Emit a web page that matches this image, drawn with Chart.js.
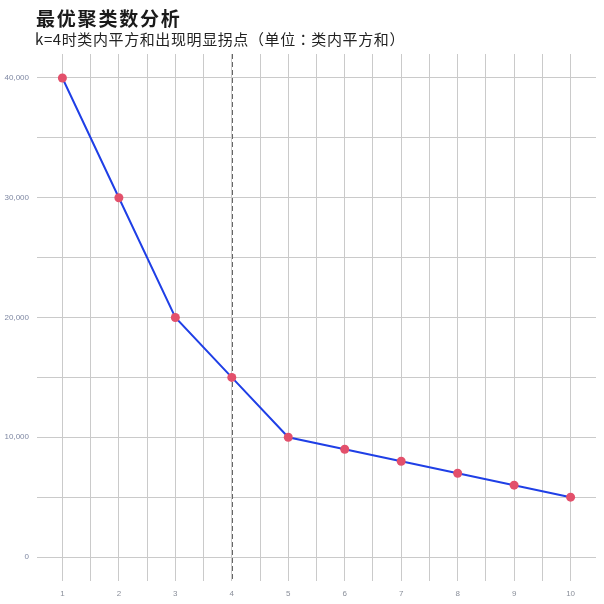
<!DOCTYPE html>
<html><head><meta charset="utf-8">
<script src="https://cdn.jsdelivr.net/npm/chart.js@4/dist/chart.umd.min.js"></script>
<style>
html,body{margin:0;padding:0;background:#fff;}
#wrap{position:relative;width:604px;height:604px;}
#title{position:absolute;left:36px;top:4px;font:bold 19px "Noto Sans CJK SC",sans-serif;color:#1a1a1a;letter-spacing:1.8px;white-space:nowrap;}
#sub{position:absolute;left:35px;top:28px;font:15px "Noto Sans CJK SC",sans-serif;color:#222;white-space:nowrap;letter-spacing:0.6px;}
#sub .p{font-family:"Noto Sans CJK TC",sans-serif;}
canvas{position:absolute;left:0;top:0;}
</style></head>
<body>
<div id="wrap">
<canvas id="c" width="604" height="604"></canvas>
<div id="title">最优聚类数分析</div>
<div id="sub">k=4时类内平方和出现明显拐点<span class="p">（</span>单位<span class="p">：</span>类内平方和<span class="p">）</span></div>
</div>
<script>
const kValues = [1,2,3,4,5,6,7,8,9,10];
const wss = [40000,30000,20000,15000,10000,9000,8000,7000,6000,5000];
const yTicks = [0,5000,10000,15000,20000,25000,30000,35000,40000];
const xTicks = [1,1.5,2,2.5,3,3.5,4,4.5,5,5.5,6,6.5,7,7.5,8,8.5,9,9.5,10];
const elbowK = 4;

const elbowPlugin = {
  id:'elbow',
  beforeDatasetsDraw(chart){
    const {ctx, chartArea, scales} = chart;
    const x = Math.round(scales.x.getPixelForValue(elbowK)) + 0.5;
    ctx.save();
    ctx.strokeStyle = '#666666';
    ctx.lineWidth = 1;
    ctx.setLineDash([5,3]);
    ctx.beginPath();
    ctx.moveTo(x, chartArea.top);
    ctx.lineTo(x, chartArea.bottom);
    ctx.stroke();
    ctx.restore();
  }
};

new Chart(document.getElementById('c'), {
  type:'line',
  data:{
    datasets:[{
      data: kValues.map((k,i)=>({x:k,y:wss[i]})),
      borderColor:'#1f3fe6',
      borderWidth:2,
      pointBackgroundColor:'#e3506b',
      pointBorderColor:'#e3506b',
      pointRadius:4.5,
      pointBorderWidth:0,
      tension:0
    }]
  },
  options:{
    responsive:false,
    animation:false,
    devicePixelRatio:1,
    layout:{padding:{top:54,right:8,left:0,bottom:0}},
    plugins:{legend:{display:false},tooltip:{enabled:false},title:{display:false}},
    scales:{
      x:{
        type:'linear', min:0.55, max:10.45,
        afterBuildTicks(s){ s.ticks = xTicks.map(v=>({value:v})); },
        afterFit(s){ s.height = 23; },
        grid:{color:'#cacaca', lineWidth:1, drawTicks:false},
        border:{display:false},
        ticks:{
          padding:8, autoSkip:false, maxRotation:0,
          color:'#8a8f9a', font:{family:'Liberation Sans, Arial', size:8},
          callback:(v)=> Number.isInteger(v) ? String(v) : ''
        }
      },
      y:{
        min:-2000, max:42000,
        afterBuildTicks(s){ s.ticks = yTicks.map(v=>({value:v})); },
        afterFit(s){ s.width = 37; },
        grid:{color:'#cacaca', lineWidth:1, drawTicks:false},
        border:{display:false},
        ticks:{
          padding:8, color:'#7f88a3', font:{family:'Liberation Sans, Arial', size:8},
          callback:(v)=> v % 10000 === 0 ? v.toLocaleString('en-US') : ''
        }
      }
    }
  },
  plugins:[elbowPlugin]
});
</script>
</body></html>
